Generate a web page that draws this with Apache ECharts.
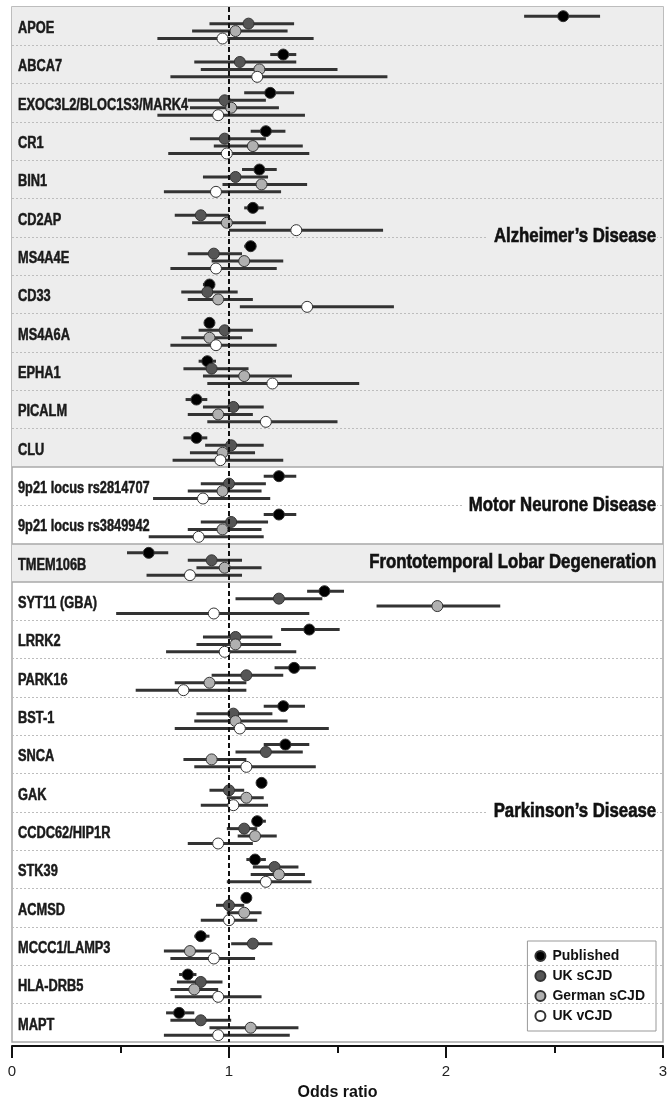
<!DOCTYPE html>
<html>
<head>
<meta charset="utf-8">
<script src="https://cdn.jsdelivr.net/npm/echarts@6/dist/echarts.min.js"></script>
<style>
  html, body { margin: 0; padding: 0; background: #fff; }
  #chart { width: 667px; height: 1100px; }
</style>
</head>
<body>
<div id="chart"></div>
<script>
// Risk loci, top to bottom
const genes = ['APOE', 'ABCA7', 'EXOC3L2/BLOC1S3/MARK4', 'CR1', 'BIN1', 'CD2AP', 'MS4A4E', 'CD33',
  'MS4A6A', 'EPHA1', 'PICALM', 'CLU', '9p21 locus rs2814707', '9p21 locus rs3849942', 'TMEM106B',
  'SYT11 (GBA)', 'LRRK2', 'PARK16', 'BST-1', 'SNCA', 'GAK', 'CCDC62/HIP1R', 'STK39', 'ACMSD',
  'MCCC1/LAMP3', 'HLA-DRB5', 'MAPT'];

// Disease groups: [name, first locus index, end index (exclusive)]
const diseases = [
  ['Alzheimer’s Disease', 0, 12],
  ['Motor Neurone Disease', 12, 14],
  ['Frontotemporal Lobar Degeneration', 14, 15],
  ['Parkinson’s Disease', 15, 27]
];

const cohorts = ['Published', 'UK sCJD', 'German sCJD', 'UK vCJD'];

// Odds ratios with 95% confidence limits
const publishedOR = [2.54, 1.25, 1.19, 1.17, 1.14, 1.11, 1.10, 0.91, 0.91, 0.90, 0.85, 0.85, 1.23, 1.23, 0.63, 1.44, 1.37, 1.30, 1.25, 1.26, 1.15, 1.13, 1.12, 1.08, 0.87, 0.81, 0.77];
const publishedLo = [2.36, 1.19, 1.07, 1.10, 1.06, 1.07, 1.07, 0.88, 0.89, 0.86, 0.80, 0.79, 1.16, 1.16, 0.53, 1.36, 1.24, 1.21, 1.16, 1.16, 1.13, 1.11, 1.08, 1.06, 0.84, 0.77, 0.71];
const publishedHi = [2.71, 1.31, 1.30, 1.26, 1.22, 1.16, 1.12, 0.93, 0.93, 0.94, 0.90, 0.90, 1.31, 1.31, 0.72, 1.53, 1.51, 1.40, 1.35, 1.37, 1.17, 1.17, 1.17, 1.09, 0.91, 0.85, 0.84];

const ukSOR = [1.09, 1.05, 0.98, 0.98, 1.03, 0.87, 0.93, 0.90, 0.98, 0.92, 1.02, 1.01, 1.00, 1.01, 0.92, 1.23, 1.03, 1.08, 1.02, 1.17, 1.00, 1.07, 1.21, 1.00, 1.11, 0.87, 0.87];
const ukSLo = [0.91, 0.84, 0.81, 0.82, 0.88, 0.75, 0.81, 0.78, 0.86, 0.79, 0.88, 0.89, 0.87, 0.87, 0.81, 1.03, 0.88, 0.92, 0.85, 1.03, 0.91, 0.99, 1.11, 0.94, 1.01, 0.76, 0.73];
const ukSHi = [1.30, 1.31, 1.17, 1.17, 1.18, 1.00, 1.06, 1.04, 1.11, 1.09, 1.16, 1.16, 1.17, 1.18, 1.06, 1.43, 1.20, 1.25, 1.20, 1.34, 1.07, 1.13, 1.32, 1.07, 1.20, 0.97, 1.01];

const deSOR = [1.03, 1.14, 1.01, 1.11, 1.15, 0.99, 1.07, 0.95, 0.91, 1.07, 0.95, 0.97, 0.97, 0.97, 0.98, 1.96, 1.03, 0.91, 1.03, 0.92, 1.08, 1.12, 1.23, 1.07, 0.82, 0.84, 1.10];
const deSLo = [0.83, 0.87, 0.82, 0.93, 0.97, 0.83, 0.92, 0.81, 0.78, 0.88, 0.81, 0.82, 0.81, 0.81, 0.85, 1.68, 0.85, 0.75, 0.84, 0.79, 0.99, 1.04, 1.10, 0.99, 0.70, 0.73, 0.91];
const deSHi = [1.27, 1.50, 1.23, 1.34, 1.36, 1.17, 1.25, 1.11, 1.06, 1.29, 1.11, 1.12, 1.15, 1.15, 1.15, 2.25, 1.24, 1.08, 1.27, 1.08, 1.16, 1.22, 1.35, 1.15, 0.92, 0.95, 1.32];

const ukVOR = [0.97, 1.13, 0.95, 0.99, 0.94, 1.31, 0.94, 1.36, 0.94, 1.20, 1.17, 0.96, 0.88, 0.86, 0.82, 0.93, 0.98, 0.79, 1.05, 1.08, 1.02, 0.95, 1.17, 1.00, 0.93, 0.95, 0.95];
const ukVLo = [0.67, 0.73, 0.67, 0.72, 0.70, 1.00, 0.73, 1.05, 0.73, 0.90, 0.90, 0.74, 0.65, 0.63, 0.62, 0.48, 0.71, 0.57, 0.75, 0.84, 0.87, 0.81, 0.99, 0.87, 0.73, 0.75, 0.70];
const ukVHi = [1.39, 1.73, 1.35, 1.37, 1.24, 1.71, 1.22, 1.76, 1.22, 1.60, 1.50, 1.25, 1.19, 1.16, 1.06, 1.37, 1.31, 1.08, 1.46, 1.40, 1.18, 1.11, 1.38, 1.13, 1.12, 1.15, 1.28];

const xTicks = [0, 1, 2, 3];

// ---- layout of the vertical (row) scale ----
const SLOT = 5;                         // units per locus
const ROW_POS = [1.2, 2.17, 3.14, 4.11]; // row of each cohort inside a locus
const fills = ['#000000', '#555555', '#b0b0b0', '#ffffff'];
const cohortData = [
  [publishedOR, publishedLo, publishedHi],
  [ukSOR, ukSLo, ukSHi],
  [deSOR, deSLo, deSHi],
  [ukVOR, ukVLo, ukVHi]
];

const SANS = "'Liberation Sans', Arial, Helvetica, sans-serif";
const total = genes.length * SLOT;

// error bars for all cohorts: [lo, hi, y]
const bars = [];
cohortData.forEach((c, k) => {
  genes.forEach((g, i) => bars.push([c[1][i], c[2][i], i * SLOT + ROW_POS[k]]));
});

// separators between loci (dotted) and between diseases (solid)
const groupEdges = diseases.slice(1).map(d => d[1] * SLOT);
const locusEdges = [];
for (let i = 1; i < genes.length; i++) {
  if (!groupEdges.includes(i * SLOT)) locusEdges.push(i * SLOT);
}
const shaded = [0, 2]; // disease groups on a grey band

const chart = echarts.init(document.getElementById('chart'), null, { renderer: 'canvas' });

const series = [];

// background bands, rules and the reference line at OR = 1
series.push({
  type: 'scatter', name: '_bg', data: [], z: 1, silent: true,
  markArea: {
    silent: true,
    itemStyle: { color: '#ededed' },
    data: shaded.map(k => [{ yAxis: diseases[k][1] * SLOT }, { yAxis: diseases[k][2] * SLOT }])
  },
  markLine: {
    silent: true, symbol: 'none', label: { show: false },
    data: [
      ...locusEdges.map(v => ({ yAxis: v, lineStyle: { color: '#bdbdbd', type: [2, 2], width: 1 } })),
      ...groupEdges.map(v => ({ yAxis: v, lineStyle: { color: '#a8a8a8', type: 'solid', width: 1.5 } })),
      { xAxis: 1, lineStyle: { color: '#111', type: [5, 3], width: 2 } }
    ]
  }
});

// confidence interval lines
series.push({
  type: 'custom', name: '_ci', z: 3, silent: true,
  data: bars,
  encode: { x: [0, 1], y: 2 },
  renderItem: (params, api) => {
    const a = api.coord([api.value(0), api.value(2)]);
    const b = api.coord([api.value(1), api.value(2)]);
    return {
      type: 'line',
      shape: { x1: a[0], y1: a[1], x2: b[0], y2: b[1] },
      style: { stroke: '#333', lineWidth: 3 }
    };
  }
});

// point estimates
cohorts.forEach((name, k) => {
  series.push({
    type: 'scatter', name: name, z: 4,
    symbol: 'circle', symbolSize: 11,
    itemStyle: { color: fills[k], borderColor: '#333', borderWidth: 1, opacity: 1 },
    data: genes.map((g, i) => [cohortData[k][0][i], i * SLOT + ROW_POS[k]])
  });
});

// locus names (bold, horizontally condensed)
series.push({
  type: 'custom', name: '_genes', z: 5, silent: true,
  data: genes.map((g, i) => [0, i * SLOT + 2.8]),
  encode: { x: 0, y: 1 },
  renderItem: (params, api) => {
    const p = api.coord([api.value(0), api.value(1)]);
    return {
      type: 'text',
      x: p[0] + 6, y: p[1], scaleX: 0.8,
      style: {
        text: genes[params.dataIndex], x: 0, y: 0,
        align: 'left', verticalAlign: 'middle',
        font: 'bold 16px ' + SANS, fill: '#1a1a1a',
        stroke: '#1a1a1a', lineWidth: 0.5
      }
    };
  }
});

// disease names
series.push({
  type: 'custom', name: '_diseases', z: 5, silent: true,
  data: diseases.map(d => [3, (d[1] + d[2]) / 2 * SLOT]),
  encode: { x: 0, y: 1 },
  renderItem: (params, api) => {
    const p = api.coord([api.value(0), api.value(1)]);
    const k = params.dataIndex;
    return {
      type: 'text',
      x: p[0] - 6, y: p[1], scaleX: 0.86,
      style: {
        text: diseases[k][0], x: 0, y: 0,
        align: 'right', verticalAlign: 'middle',
        font: 'bold 19.5px ' + SANS, fill: '#111',
        stroke: '#111', lineWidth: 0.6,
        backgroundColor: shaded.includes(k) ? '#ededed' : '#ffffff',
        padding: [1, 1, 1, 7]
      }
    };
  }
});

chart.setOption({
  animation: false,
  backgroundColor: '#ffffff',
  grid: {
    left: 12, right: 4, top: 7, bottom: 58,
    outerBoundsMode: 'none',
    show: true, borderColor: '#a8a8a8', borderWidth: 1.5, backgroundColor: 'transparent'
  },
  legend: {
    data: cohorts,
    orient: 'vertical',
    right: 11, bottom: 69,
    icon: 'circle', itemWidth: 10, itemHeight: 10, itemGap: 6,
    padding: [8, 11, 8, 7],
    backgroundColor: '#ffffff', borderColor: '#999', borderWidth: 1,
    textStyle: { fontFamily: SANS, fontWeight: 'bold', fontSize: 14, color: '#111', padding: [0, 0, 0, 2] }
  },
  xAxis: {
    type: 'value', min: 0, max: 3, interval: 1,
    offset: 4,
    axisLine: { show: true, onZero: false, lineStyle: { color: '#111', width: 2 } },
    axisTick: { show: true, length: 12, lineStyle: { color: '#111', width: 2 } },
    minorTick: { show: true, splitNumber: 2, length: 7, lineStyle: { color: '#111', width: 2 } },
    splitLine: { show: false },
    axisLabel: {
      margin: 18, fontSize: 15, color: '#222', fontFamily: SANS,
      formatter: v => (xTicks.includes(v) ? String(v) : '')
    },
    name: 'Odds ratio', nameLocation: 'middle', nameGap: 39,
    nameTextStyle: { fontSize: 16, fontWeight: 'bold', color: '#111', fontFamily: SANS }
  },
  yAxis: {
    type: 'value', min: 0, max: total, inverse: true, show: false
  },
  series: series
});
</script>
</body>
</html>
